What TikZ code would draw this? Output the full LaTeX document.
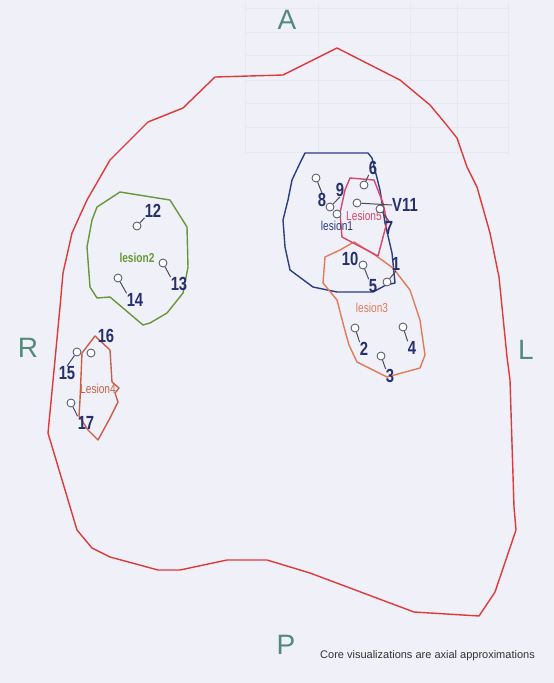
\documentclass[tikz,border=0pt]{standalone}
\usepackage{fontspec}
\setmainfont{Liberation Sans}
\definecolor{bgc}{RGB}{240,240,248}
\definecolor{gridc}{RGB}{232,232,240}
\definecolor{prost}{RGB}{222,58,58}
\definecolor{navy}{RGB}{38,48,110}
\definecolor{lblue}{RGB}{44,62,128}
\definecolor{lgreen}{RGB}{104,150,56}
\definecolor{lorange}{RGB}{226,122,90}
\definecolor{lpink}{RGB}{214,72,106}
\definecolor{lbrown}{RGB}{200,96,70}
\definecolor{teal}{RGB}{84,138,122}
\definecolor{mk}{RGB}{90,96,116}
\tikzset{
  num/.style={inner sep=0pt, text=navy, font=\fontsize{19}{19}\selectfont\bfseries},
  orient/.style={inner sep=0pt, text=teal, font=\fontsize{28}{28}\selectfont},
  lname/.style={inner sep=0pt, font=\fontsize{11}{11}\selectfont},
  core/.style={circle, draw=mk, fill=white, line width=0.9pt, minimum size=8pt, inner sep=0pt},
  tie/.style={draw=mk!80!black, line width=1pt},
  outline/.style={line width=1.4pt, line join=round},
}
\newcommand{\nm}[1]{\scalebox{0.78}[1]{#1}}
\begin{document}
\begin{tikzpicture}[x=1pt,y=-1pt]
\fill[bgc] (0,0) rectangle (554,683);
\useasboundingbox (0,0) rectangle (554,683);
% faint show-through table
\foreach \xx in {245,318,410,457,508} \draw[gridc,line width=0.7pt] (\xx,2) -- (\xx,155);
\foreach \yy in {8,32,55,80,103,127,152} \draw[gridc,line width=0.7pt] (245,\yy) -- (508,\yy);
% prostate outline
\draw[prost, outline] (215,77) -- (283,75) -- (337,48) -- (400,80) -- (430,105) -- (445,123) -- (457,138) -- (467,167) -- (477,187) -- (490,233) -- (499,277) -- (507,357) -- (510,380) -- (514,507) -- (516,530) -- (495,592) -- (479,616) -- (414,612) -- (310,573) -- (277,563) -- (267,560) -- (227,560) -- (180,570) -- (158,570) -- (110,557) -- (92,548) -- (77,530) -- (48,433) -- (55,360) -- (60,307) -- (63,273) -- (72,233) -- (87,200) -- (110,160) -- (148,122) -- (183,108) -- cycle;
% lesion2
\draw[lgreen, outline] (97,207) -- (120,192) -- (170,200) -- (187,227) -- (188,267) -- (183,293) -- (167,313) -- (150,323) -- (143,325) -- (110,297) -- (97,298) -- (90,287) -- (87,247) -- (92,220) -- cycle;
% lesion4
\draw[lbrown, outline] (95,336) -- (110,350) -- (112,382) -- (119,388) -- (115,393) -- (118,402) -- (110,418) -- (98,440) -- (88,430) -- (79,416) -- (80,400) -- (82,353) -- cycle;
% lesion1
\draw[lblue, outline] (305,153) -- (368,153) -- (372,158) -- (380,190) -- (385,223) -- (392,253) -- (395,283) -- (386,285) -- (373,292) -- (337,292) -- (313,287) -- (290,270) -- (285,247) -- (283,220) -- (288,200) -- (292,180) -- (300,163) -- cycle;
% lesion3
\draw[lorange, outline] (323,283) -- (325,257) -- (340,250) -- (354,242) -- (375,255) -- (393,268) -- (410,290) -- (420,320) -- (425,355) -- (420,368) -- (387,377) -- (357,362) -- (349,345) -- (344,327) -- (337,300) -- cycle;
% lesion5
\draw[lpink, outline] (350,178) -- (374,180) -- (383,203) -- (387,222) -- (378,256) -- (342,237) -- (340,213) -- (345,190) -- cycle;
% lesion names
\node[lname, text=lgreen] (n2) at (137,258) {\nm{\fontsize{13}{13}\selectfont\bfseries lesion2}};
\node[lname, text=lbrown] (n4) at (98,389) {\nm{\fontsize{13}{13}\selectfont Lesion4}};
\node[lname, text=lblue] (n1) at (337,226) {\nm{\fontsize{13}{13}\selectfont lesion1}};
\node[lname, text=lpink] (n5) at (364,216) {\nm{\fontsize{13}{13}\selectfont Lesion5}};
\node[lname, text=lorange] (n3) at (372,308) {\nm{\fontsize{13}{13}\selectfont lesion3}};
% cores: circles
\node[core] (c12) at (137,226) {};
\node[core] (c13) at (163,263) {};
\node[core] (c14) at (118,278) {};
\node[core] (c15) at (77,352) {};
\node[core] (c16) at (91,353) {};
\node[core] (c17) at (71,403) {};
\node[core] (c8) at (316,178) {};
\node[core] (c9) at (330,207) {};
\node[core] (c9b) at (337,214) {};
\node[core] (c6) at (364,185) {};
\node[core] (c11) at (357,203) {};
\node[core] (c7) at (380,209) {};
\node[core] (c5) at (363,265) {};
\node[core] (c1) at (387,282) {};
\node[core] (c2) at (355,328) {};
\node[core] (c4) at (403,327) {};
\node[core] (c3) at (381,356) {};
% labels
\node[num] (l12) at (153,211) {\nm{12}};
\node[num] (l13) at (179,284) {\nm{13}};
\node[num] (l14) at (135,300) {\nm{14}};
\node[num] (l15) at (67,373) {\nm{15}};
\node[num] (l16) at (106,336) {\nm{16}};
\node[num] (l17) at (86,423) {\nm{17}};
\node[num] (l8) at (322,200) {\nm{8}};
\node[num] (l9) at (340,190) {\nm{9}};
\node[num] (l6) at (373,168) {\nm{6}};
\node[num] (l11) at (405,205) {\nm{V11}};
\node[num] (l7) at (389,228) {\nm{7}};
\node[num] (l10) at (350,259) {\nm{10}};
\node[num] (l5) at (373,286) {\nm{5}};
\node[num] (l1) at (396,264) {\nm{1}};
\node[num] (l2) at (364,349) {\nm{2}};
\node[num] (l4) at (412,348) {\nm{4}};
\node[num] (l3) at (390,376) {\nm{3}};
% ties
\draw[tie] (c12) -- (l12.south west);
\draw[tie] (c13) -- (l13.north west);
\draw[tie] (c14) -- (l14.north west);
\draw[tie] (c15) -- (l15.north);
\draw[tie] (c17) -- (l17.north west);
\draw[tie] (c8) -- (l8.north);
\draw[tie] (c9) -- (l9.south);
\draw[tie] (c6) -- (l6.south west);
\draw[tie] (c11) -- (l11.west);
\draw[tie] (c7) -- (l7.north);
\draw[tie] (c5) -- (l5.north west);
\draw[tie] (c1) -- (l1.south);
\draw[tie] (c2) -- (l2.north west);
\draw[tie] (c4) -- (l4.north west);
\draw[tie] (c3) -- (l3.north west);
% orientation letters
\node[orient] (oa) at (287,20) {A};
\node[orient] (or) at (28,348) {R};
\node[orient] (ol) at (526,350) {L};
\node[orient] (op) at (286,645) {P};
% caption
\node[inner sep=0pt, text=black!80, font=\fontsize{11}{11}\selectfont, anchor=west] (cap) at (320,656) {Core visualizations are axial approximations};
\end{tikzpicture}
\end{document}
